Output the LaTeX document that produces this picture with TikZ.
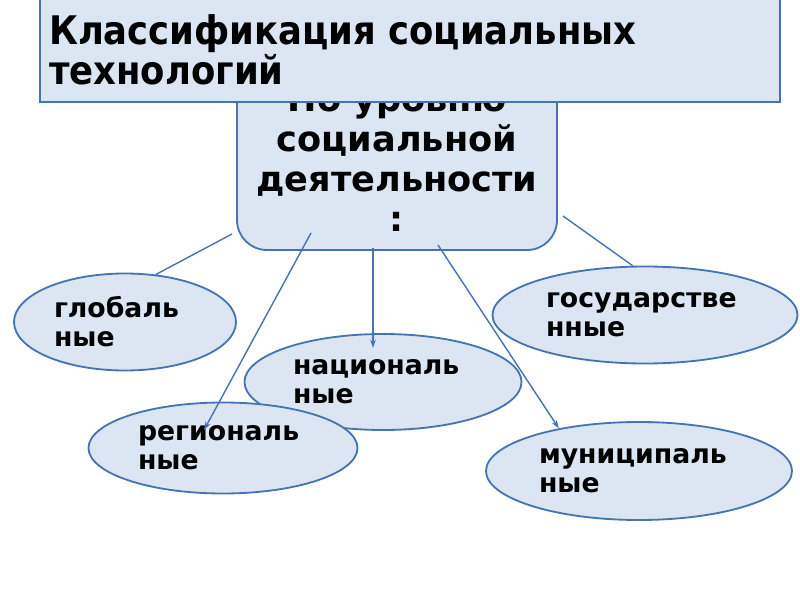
\documentclass[tikz,border=0pt]{standalone}
\usepackage{fontspec}
\setmainfont{DejaVu Sans}
\newfontfamily\condfont{DejaVu Sans Condensed}
\usetikzlibrary{arrows.meta}
\usetikzlibrary{shapes.geometric}
\definecolor{boxfill}{HTML}{DCE6F2}
\definecolor{boxline}{HTML}{4475B0}
\tikzset {
  % rounded box and title box
  level box/.style = {
    draw = boxline,
    fill = boxfill,
    line width = 1.3pt,
    rounded corners = 0.75cm,
    align = center,
    font = \fontsize{25}{28.5}\selectfont\bfseries
  },
  title box/.style = {
    draw = boxline,
    fill = boxfill,
    line width = 1pt
  },
  % class of technology
  kind/.style = {
    draw = boxline,
    fill = boxfill,
    ellipse,
    line width = 1.3pt,
    inner sep = 0,
    align = left,
    font = \fontsize{19}{20.6}\selectfont\bfseries
  },
  link/.style = {
    draw = boxline,
    line width = 1pt
  },
  arrowlink/.style = {
    link,
    -{Stealth[length = 6pt, width = 4pt]}
  }
}

\begin{document}
\begin{tikzpicture}
    \clip (0,0) rectangle (20,15);
    \fill[white] (0,0) rectangle (20,15);

    \node[kind, text width = 3.55cm, minimum width = 5.55cm, minimum height = 2.425cm] (glob) at (3.125,6.95) {глобаль\\ные};
    \node[kind, text width = 4.95cm, minimum width = 7.625cm, minimum height = 2.425cm] (gov) at (16.125,7.125) {государстве\\нные};
    \node[kind, text width = 4.5cm, minimum width = 6.925cm, minimum height = 2.4cm] (nat) at (9.575,5.45) {националь\\ные};
    \node[kind, text width = 4.25cm, minimum width = 6.725cm, minimum height = 2.275cm] (reg) at (5.575,3.8) {региональ\\ные};
    \node[kind, text width = 5cm, minimum width = 7.65cm, minimum height = 2.45cm] (mun) at (15.975,3.225) {муниципаль\\ные};

    \node[level box, minimum width = 8cm, minimum height = 4.55cm] (level) at (9.925,11.025)
      {По уровню\\социальной\\деятельности\\:};

    % ends of the connectors inside the box
    \coordinate (fromglob) at (5.8,9.15);
    \coordinate (fromreg) at (7.775,9.175);
    \coordinate (fromnat) at (9.325,8.8);
    \coordinate (frommun) at (10.95,8.875);
    \coordinate (fromgov) at (14.075,9.6);
    \coordinate (tonat) at (9.325,6.3);
    \coordinate (toreg) at (5.1,4.25);

    \draw[link] (fromglob) -- (glob.57);
    \draw[arrowlink] (fromreg) -- (toreg);
    \draw[arrowlink] (fromnat) -- (tonat);
    \draw[arrowlink] (frommun) -- (mun.152);
    \draw[link] (fromgov) -- (gov.104);

    \node[title box, minimum width = 18.5cm, minimum height = 3cm] (title) at (10.25,13.95) {};
    \node[anchor = west, inner sep = 0, align = left, font = \condfont\fontsize{28}{25.5}\selectfont\bfseries] (caption) at (1.22,13.75)
      {Классификация социальных\\технологий};
\end{tikzpicture}
\end{document}
